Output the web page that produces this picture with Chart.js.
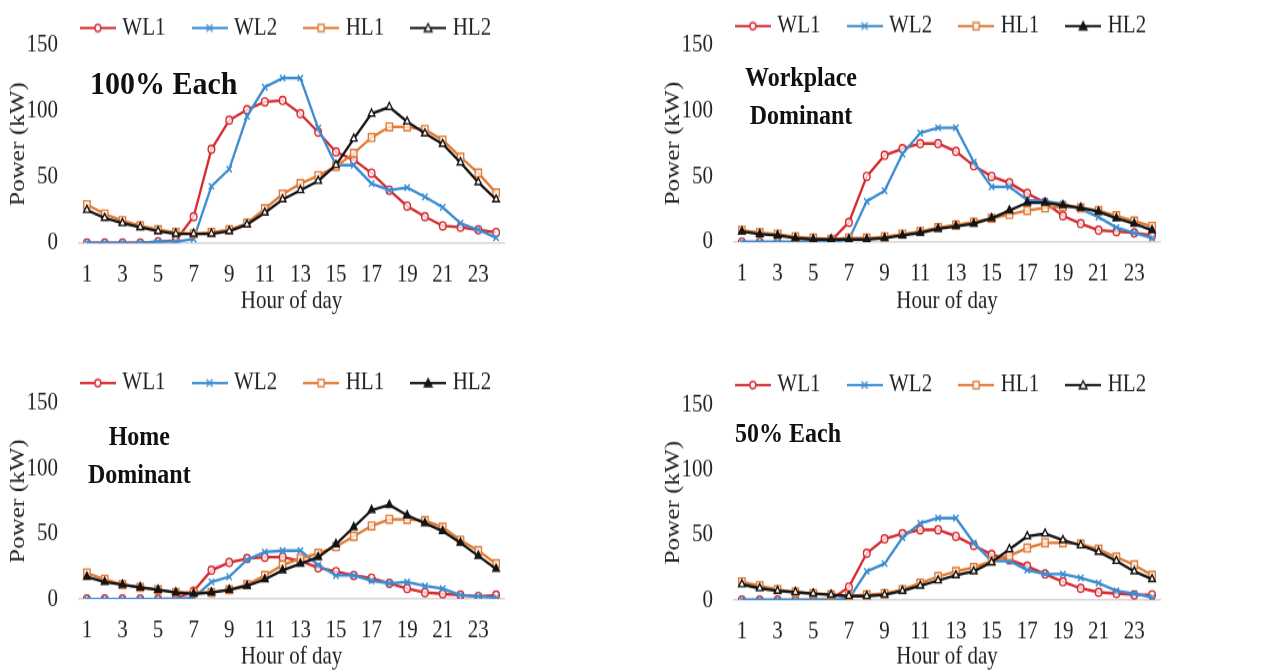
<!DOCTYPE html>
<html><head><meta charset="utf-8">
<script src="https://cdn.jsdelivr.net/npm/chart.js@4/dist/chart.umd.min.js"></script>
<style>
html,body{margin:0;padding:0;background:#fff;overflow:hidden;width:1277px;height:672px}
canvas{position:absolute}
.note{position:absolute;font-family:"Liberation Serif",serif;font-weight:bold;color:#111;text-align:center;line-height:34px;white-space:nowrap;transform-origin:50% 50%}
</style></head><body>
<canvas id="c1"></canvas>
<canvas id="c2"></canvas>
<canvas id="c3"></canvas>
<canvas id="c4"></canvas>
<div class="note" style="left:90px;top:66px;font-size:30px;transform:scaleY(1.08)">100% Each</div>
<div class="note" style="left:745px;top:62px;font-size:24px;transform:scaleY(1.12)">Workplace<br>Dominant</div>
<div class="note" style="left:88px;top:421px;font-size:24px;transform:scaleY(1.12)">Home<br>Dominant</div>
<div class="note" style="left:735px;top:416px;font-size:24px;transform:scaleY(1.12)">50% Each</div>
<script>
const HOURS = ['1','2','3','4','5','6','7','8','9','10','11','12','13','14','15','16','17','18','19','20','21','22','23','24'];
const SERIES_NAMES = ['WL1','WL2','HL1','HL2'];
const Y_TICKS = [0, 50, 100, 150];

// Panel 1: 100% Each
const P1_WL1 = [0,0,0,0,1,2,20,71,93,101,107,108,98,84,69,63,53,40,28,20,13,12,10,8];
const P1_WL2 = [0,0,0,0,1,1,3,43,56,96,118,125,125,87,59,59,45,40,42,35,27,15,10,4];
const P1_HL1 = [29,22,17,13,10,8,7,8,10,15,26,37,45,51,58,68,80,88,88,86,78,65,53,38];
const P1_HL2 = [25,19,15,12,9,7,7,7,9,14,23,33,40,47,59,79,98,103,92,83,75,61,46,33];

// Panel 2: Workplace Dominant
const P2_WL1 = [0,0,0,0,0.5,1,15,50,66,71,75,75,69,58,50,45,37,30,20,14,9,8,7,5];
const P2_WL2 = [0,0,0,0,0,0,2,31,39,67,83,87,87,61,42,42,32,31,29,25,19,11,7,3];
const P2_HL1 = [9,7,6,4,3,2,3,3,4,6,8,11,13,15,18,21,24,26,27,26,24,20,16,12];
const P2_HL2 = [8,6,5,3,2,2,2,2,3,5,7,10,12,14,18,24,30,30,28,26,23,18,14,9];

// Panel 3: Home Dominant
const P3_WL1 = [0,0,0,0,0,0.5,6,22,28,31,32,32,29,24,21,18,16,12,8,5,4,3,2,3];
const P3_WL2 = [0,0,0,0,0,0,1,13,17,30,36,37,37,26,18,18,14,12,13,10,8,3,2,1];
const P3_HL1 = [20,15,11,9,7,5,5,5,7,11,18,26,31,35,40,48,56,61,61,60,55,45,37,27];
const P3_HL2 = [17,13,11,9,7,5,4,5,7,10,15,22,27,32,42,55,68,72,64,58,52,43,33,23];

// Panel 4: 50% Each
const P4_WL1 = [0,0,0,0,0,0.5,10,36,47,51,54,54,49,42,35,31,26,20,14,9,6,5,4,4];
const P4_WL2 = [0,0,0,0,0,0,1,22,28,48,59,63,63,44,30,30,23,20,20,17,13,7,5,2];
const P4_HL1 = [14,11,8,6,5,4,3,4,5,8,13,18,22,25,30,34,40,44,44,43,39,33,27,19];
const P4_HL2 = [12,9,7,6,5,4,3,3,4,7,11,15,19,22,29,39,49,51,46,42,37,30,22,16];

const FONT = '"Liberation Serif", "Times New Roman", serif';
const TXT = '#222';
const COLORS = {WL1:'#d52a2f', WL2:'#3a8dd2', HL1:'#e07a34', HL2:'#151515'};
const STRETCH = 1.2;     // the reference is drawn slightly taller than wide
const FS = 21;           // font size
const LEG_PAD = 30;      // legend spacing

function icon(name, hl2Fill){
  const c = document.createElement('canvas');
  c.width = 36; c.height = 14;
  const x = c.getContext('2d');
  const col = COLORS[name];
  x.strokeStyle = col; x.lineWidth = 2.2;
  x.beginPath(); x.moveTo(0,7); x.lineTo(36,7); x.stroke();
  x.lineWidth = 1.4;
  if (name === 'WL1'){ x.fillStyle='#fff'; x.beginPath(); x.arc(18,7,3,0,Math.PI*2); x.fill(); x.stroke(); }
  if (name === 'WL2'){ x.beginPath(); x.moveTo(15,4); x.lineTo(21,10); x.moveTo(21,4); x.lineTo(15,10); x.stroke(); }
  if (name === 'HL1'){ x.fillStyle='#fff'; x.fillRect(15,4,6,6); x.strokeRect(15,4,6,6); }
  if (name === 'HL2'){ x.fillStyle=hl2Fill; x.beginPath(); x.moveTo(18,3.5); x.lineTo(21.8,10); x.lineTo(14.2,10); x.closePath(); x.fill(); x.stroke(); }
  return c;
}

// geometry (screen px): canvas box, chart-area top/bottom, legend centre, x-title centre
function makeChart(id, data, hl2Fill, g){
  const cv = document.getElementById(id);
  const hInt = Math.round(g.H / STRETCH);
  const s = g.H / hInt;
  cv.width = g.W; cv.height = hInt;
  cv.style.left = g.left + 'px'; cv.style.top = g.top + 'px';
  cv.style.width = g.W + 'px'; cv.style.height = g.H + 'px';
  const chartTop = g.chartTop / s, chartBottom = g.chartBottom / s;
  const legendY = g.legendY / s, titleY = g.titleY / s;
  const padTop = chartTop - (FS + LEG_PAD + 10);
  const legShift = legendY - (padTop + LEG_PAD + FS / 2);
  const xTitlePadB = Math.max(0, hInt - FS * 1.2 / 2 - titleY);

  const icons = SERIES_NAMES.map(n => icon(n, hl2Fill));
  const ds = [
    {label:'WL1', data:data[0], borderColor:COLORS.WL1, pointStyle:'circle', pointRadius:3.3, pointBackgroundColor:'rgba(255,255,255,0.75)', pointBorderColor:COLORS.WL1, order:4},
    {label:'WL2', data:data[1], borderColor:COLORS.WL2, pointStyle:'crossRot', pointRadius:3.8, pointBackgroundColor:COLORS.WL2, pointBorderColor:COLORS.WL2, order:3},
    {label:'HL1', data:data[2], borderColor:COLORS.HL1, pointStyle:'rect', pointRadius:4.5, pointBackgroundColor:'rgba(255,255,255,0.7)', pointBorderColor:COLORS.HL1, order:2},
    {label:'HL2', data:data[3], borderColor:COLORS.HL2, pointStyle:'triangle', pointRadius:3.8, pointBackgroundColor:hl2Fill, pointBorderColor:COLORS.HL2, order:1}
  ].map(d => Object.assign(d, {borderWidth:2.3, pointBorderWidth:1.4, tension:0, fill:false}));

  return new Chart(cv, {
    type:'line',
    data:{labels:HOURS, datasets:ds},
    plugins:[{id:'legShift', afterLayout(chart){ if (chart.legend){ chart.legend.top += legShift; chart.legend.bottom += legShift; } }}],
    options:{
      responsive:false, animation:false, devicePixelRatio:1,
      layout:{padding:{top:padTop, left:0, right:0, bottom:0}},
      plugins:{
        tooltip:{enabled:false},
        legend:{
          position:'top', align:'center',
          labels:{
            usePointStyle:true, pointStyleWidth:28, padding:LEG_PAD,
            font:{family:FONT, size:FS}, color:TXT,
            generateLabels:(chart)=> chart.data.datasets.map((d,i)=>({
              text:d.label, pointStyle:icons[i], datasetIndex:i, hidden:false,
              fillStyle:d.borderColor, strokeStyle:d.borderColor, lineWidth:0, fontColor:TXT
            })),
            sort:(a,b)=>a.datasetIndex-b.datasetIndex
          }
        }
      },
      scales:{
        x:{
          type:'category', offset:true,
          grid:{display:false, drawTicks:false}, border:{display:false},
          ticks:{autoSkip:false, maxRotation:0, minRotation:0, padding:14, color:TXT,
                 font:{family:FONT, size:FS},
                 callback:(v,i)=> (i % 2 === 0 ? HOURS[i] : '')},
          title:{display:true, text:'Hour of day', color:TXT, font:{family:FONT, size:FS}, padding:{top:0, bottom:xTitlePadB}},
          afterFit:(sc)=>{ sc.height = hInt - chartBottom; }
        },
        y:{
          min:0, max:150,
          afterBuildTicks:(sc)=>{ sc.ticks = Y_TICKS.map(v=>({value:v})); },
          grid:{drawTicks:false, lineWidth:1.4, color:(c)=> (c.tick && c.tick.value===0 ? '#d6d6d6' : 'rgba(0,0,0,0)')},
          border:{display:false},
          ticks:{padding:20, color:TXT, font:{family:FONT, size:FS}},
          title:{display:true, text:'Power (kW)', color:TXT, font:{family:FONT, size:FS}, padding:{top:6, bottom:0}},
          afterFit:(sc)=>{ sc.width = g.plotLeft; }
        },
        yR:{
          type:'linear', position:'right', display:true, min:0, max:1,
          grid:{display:false, drawTicks:false}, border:{display:false},
          ticks:{display:false},
          afterFit:(sc)=>{ sc.width = g.W - g.plotRight; }
        }
      }
    }
  });
}

makeChart('c1', [P1_WL1, P1_WL2, P1_HL1, P1_HL2], '#ffffff',
  {left:0, top:0, W:575, H:320, plotLeft:78, plotRight:505, chartTop:45, chartBottom:243, legendY:28, titleY:302});
makeChart('c2', [P2_WL1, P2_WL2, P2_HL1, P2_HL2], '#151515',
  {left:655, top:0, W:575, H:320, plotLeft:78, plotRight:506, chartTop:45, chartBottom:242, legendY:26, titleY:302});
makeChart('c3', [P3_WL1, P3_WL2, P3_HL1, P3_HL2], '#151515',
  {left:0, top:358, W:575, H:314, plotLeft:78, plotRight:505, chartTop:45, chartBottom:241, legendY:25, titleY:299});
makeChart('c4', [P4_WL1, P4_WL2, P4_HL1, P4_HL2], '#ffffff',
  {left:655, top:360, W:575, H:312, plotLeft:78, plotRight:506, chartTop:45, chartBottom:240, legendY:25, titleY:297});
</script>
</body></html>
